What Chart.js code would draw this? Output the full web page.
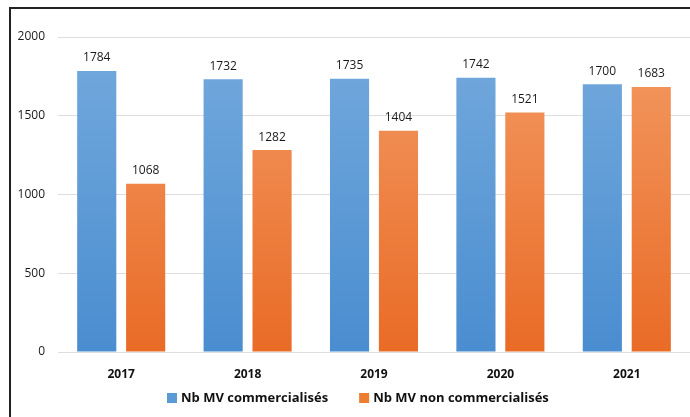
<!DOCTYPE html>
<html>
<head>
<meta charset="utf-8">
<script src="https://cdn.jsdelivr.net/npm/chart.js@4.4.1/dist/chart.umd.min.js"></script>
<style>
  html, body { margin: 0; padding: 0; background: #fff; }
  #wrap { position: relative; width: 690px; height: 417px; overflow: hidden; }
</style>
</head>
<body>
<div id="wrap"><canvas id="chart" width="690" height="417"></canvas></div>
<script>
const years = ['2017', '2018', '2019', '2020', '2021'];
const commercialises = [1784, 1732, 1735, 1742, 1700];
const nonCommercialises = [1068, 1282, 1404, 1521, 1683];
const yTicks = [0, 500, 1000, 1500, 2000];
const seriesNames = ['Nb MV commercialisés', 'Nb MV non commercialisés'];

const FONT = "'Open Sans', 'DejaVu Sans', sans-serif";

function vGradient(top, bottom) {
    return (context) => {
        const area = context.chart.chartArea;
        if (!area) return bottom;
        const g = context.chart.ctx.createLinearGradient(0, area.top, 0, area.bottom);
        g.addColorStop(0, top);
        g.addColorStop(1, bottom);
        return g;
    };
}

// frame, value labels and legend
const decorations = {
    id: 'decorations',
    beforeDraw(chart) {
        const ctx = chart.ctx;
        ctx.save();
        ctx.fillStyle = '#fff';
        ctx.fillRect(0, 0, chart.width, chart.height);
        ctx.fillStyle = '#222';
        ctx.fillRect(9, 7, chart.width - 9, 2);
        ctx.fillRect(9, 7, 2, chart.height - 7);
        ctx.restore();
    },
    afterDatasetsDraw(chart) {
        const ctx = chart.ctx;
        ctx.save();
        ctx.font = '12px ' + FONT;
        ctx.fillStyle = '#1a1a1a';
        ctx.textAlign = 'center';
        ctx.textBaseline = 'bottom';
        chart.data.datasets.forEach((ds, i) => {
            chart.getDatasetMeta(i).data.forEach((bar, j) => {
                ctx.fillText(String(ds.data[j]), bar.x, bar.y - 7);
            });
        });

        // legend
        ctx.font = 'bold 13px ' + FONT;
        ctx.textAlign = 'left';
        ctx.textBaseline = 'middle';
        const y = 398;
        const box = 10, gapText = 4, gapItem = 31;
        const widths = chart.data.datasets.map(ds => box + gapText + ctx.measureText(ds.label).width);
        let x = 167;
        chart.data.datasets.forEach((ds, i) => {
            ctx.fillStyle = ds.legendColor;
            ctx.fillRect(x, y - box / 2, box, box);
            ctx.fillStyle = '#111';
            ctx.fillText(ds.label, x + box + gapText, y + 0.5);
            x += widths[i] + gapItem;
        });
        ctx.restore();
    }
};

new Chart(document.getElementById('chart'), {
    type: 'bar',
    data: {
        labels: years,
        datasets: [
            {
                label: seriesNames[0],
                data: commercialises,
                backgroundColor: vGradient('#74aadd', '#4a8dd0'),
                legendColor: '#5b9bd5',
                categoryPercentage: 0.774,
                barPercentage: 0.8,
            },
            {
                label: seriesNames[1],
                data: nonCommercialises,
                backgroundColor: vGradient('#f39a63', '#e96b26'),
                legendColor: '#ed7d31',
                categoryPercentage: 0.774,
                barPercentage: 0.8,
            },
        ],
    },
    options: {
        responsive: false,
        animation: false,
        layout: { padding: { top: 37, right: 0, bottom: 35, left: 0 } },
        plugins: {
            legend: { display: false },
            tooltip: { enabled: false },
        },
        scales: {
            x: {
                grid: { display: false },
                border: { display: false },
                ticks: {
                    color: '#111',
                    padding: 7,
                    font: { family: FONT, size: 12, weight: 'bold' },
                },
                afterFit: (scale) => { scale.height = 30; },
            },
            y: {
                min: 0,
                max: 2000,
                afterBuildTicks: (scale) => { scale.ticks = yTicks.map(v => ({ value: v })); },
                grid: { color: '#dedede', lineWidth: 1, drawTicks: false },
                border: { display: false },
                ticks: {
                    color: '#1a1a1a',
                    padding: 13,
                    font: { family: FONT, size: 12 },
                    callback: (value) => String(value),
                },
                afterFit: (scale) => { scale.width = 58; },
            },
        },
    },
    plugins: [decorations],
});
</script>
</body>
</html>
